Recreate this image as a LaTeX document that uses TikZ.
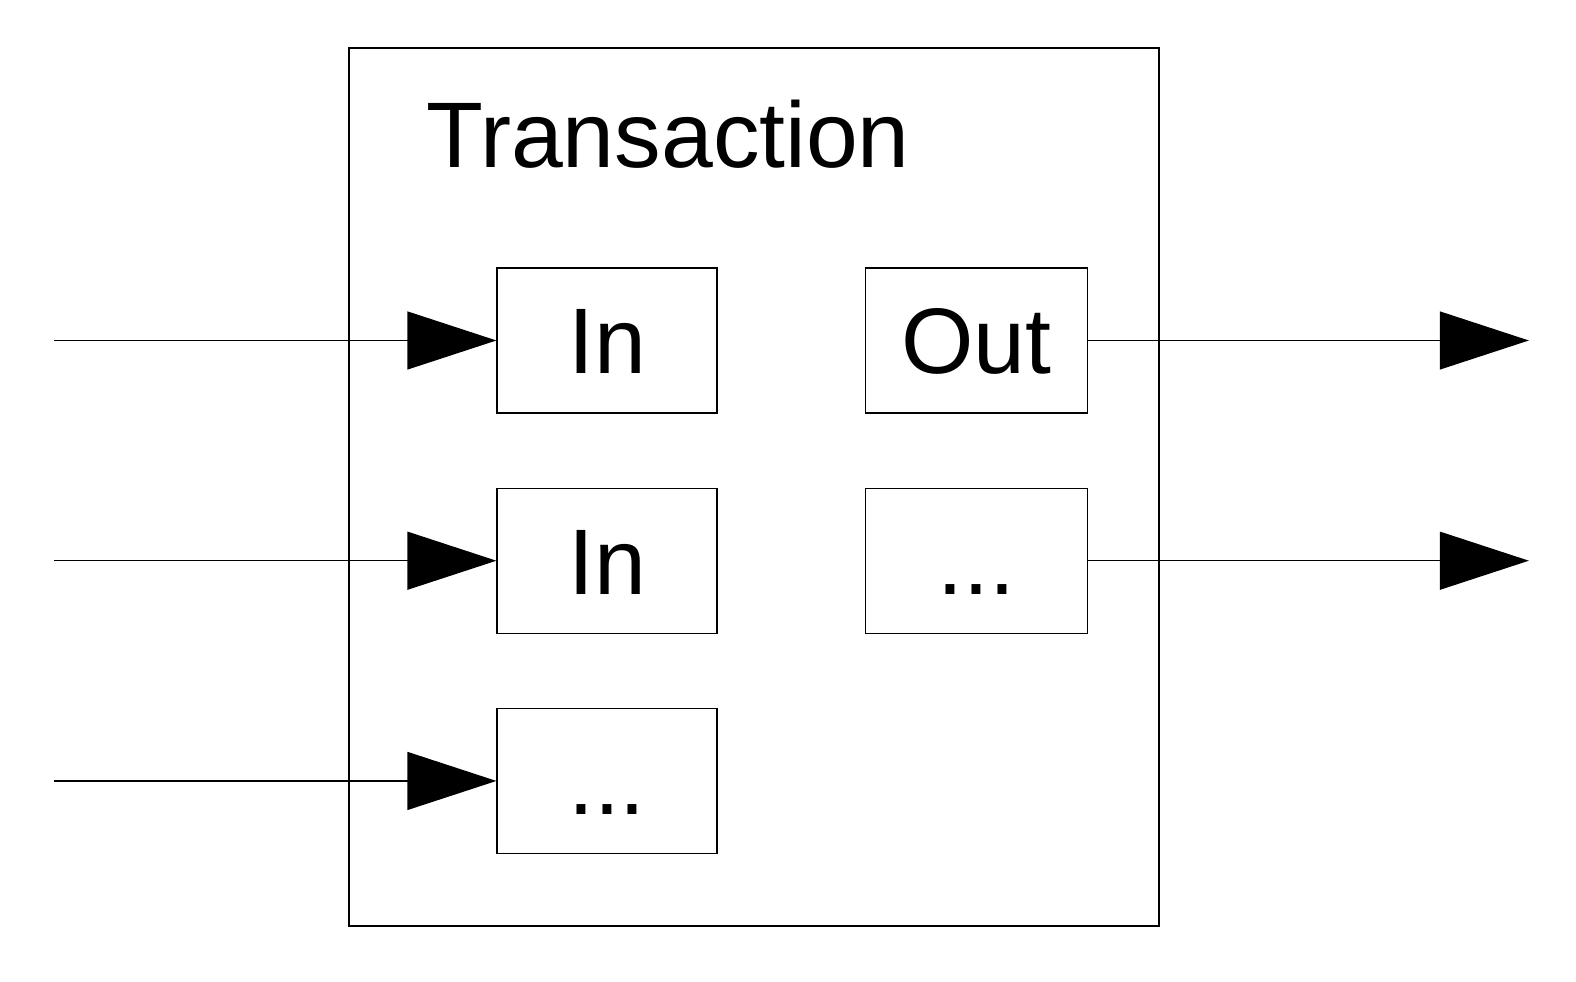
\documentclass[tikz,border=0pt]{standalone}
\usepackage{fontspec}
\setmainfont{Liberation Sans}
\usepackage{tikz}
\usetikzlibrary{arrows.meta,positioning}

\begin{document}
\begin{tikzpicture}[->,>={Triangle[length=0.89cm,width=0.58cm]},line width=0.35pt,
    part node/.style={draw,rectangle,inner sep=0pt,minimum width=2.2cm,minimum height=1.45cm,
        font=\fontsize{26.5}{32}\selectfont,text height=0.67cm,text depth=0pt}]

    \useasboundingbox (0,0) rectangle (15.76,9.82);

    \node[draw,-,minimum width=8.1cm,minimum height=8.78cm,inner sep=0pt] (tx) at (7.54,4.95) {};
    \node[anchor=base west,inner sep=0pt,font=\fontsize{26.5}{32}\selectfont] (title) at (4.26,8.14) {Transaction};

    \node[part node] (in1) at (6.07,6.415) {In};
	\node[part node] (in2) [below=0.74cm of in1] {In};
    \node[part node] (in3) [below=0.74cm of in2] {...};

    \node[part node,minimum width=2.22cm] (out1) [right=1.47cm of in1] {Out};
    \node[part node,minimum width=2.22cm] (out2) [right=1.47cm of in2] {...};

    \coordinate[left=4.42cm of in1.west] (src1);
    \coordinate[left=4.42cm of in2.west] (src2);
    \coordinate[left=4.42cm of in3.west] (src3);
    \coordinate[right=4.41cm of out1.east] (dst1);
    \coordinate[right=4.41cm of out2.east] (dst2);

    \path (src1) edge (in1);
    \path (src2) edge (in2);
    \path (src3) edge (in3);
    \path (out1) edge (dst1);
    \path (out2) edge (dst2);
\end{tikzpicture}
\end{document}
